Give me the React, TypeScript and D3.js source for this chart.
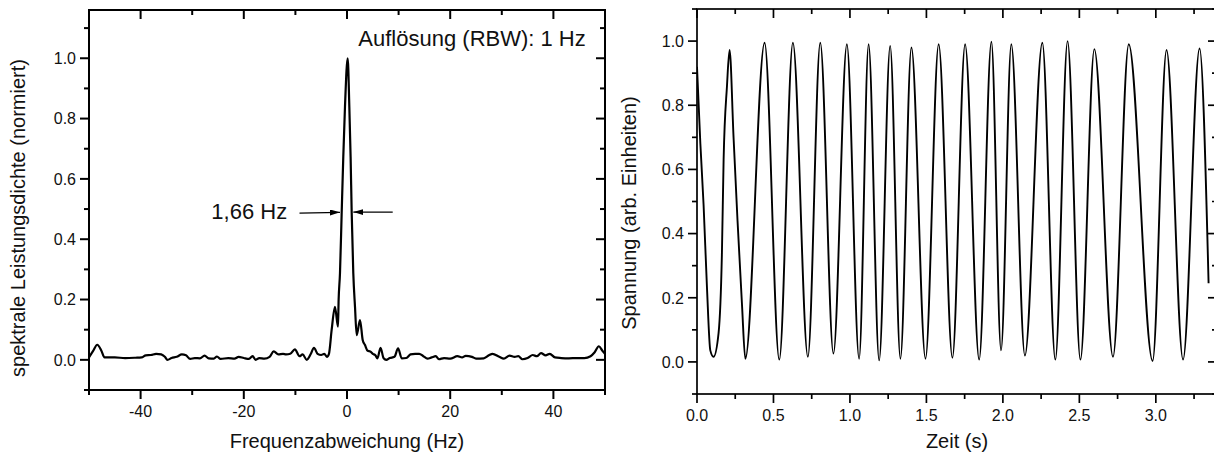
import React from 'react';
import * as d3 from 'd3';

// ---------- Data: left panel (power spectrum) ----------
const specFreq = [
  -50, -49.2, -48.4, -47.6, -47.0, -45, -43, -41, -39.8, -39, -38, -37, -36, -35.3, -34.8, -34, -33, -32, -31.2,
  -30.4, -29.5, -28.5, -27.6, -26.8, -25.8, -25.2, -24.5, -23, -21.8, -21, -20, -19, -18.3, -17.7, -17, -16, -15,
  -14.2, -13.3, -12.4, -11.8, -11, -10.1, -9.2, -8.6, -7.8, -7.0, -6.4, -5.7, -5.0, -4.4, -3.9, -3.5, -2.97, -2.33,
  -1.75, -1.62, -1.36, -1.03, -0.72, -0.39, 0.13, 0.45, 0.7, 0.91, 1.22, 1.55, 1.88, 2.52, 3.04, 3.49, 4.0, 4.5,
  5.0, 5.5, 5.9, 6.5, 7.1, 7.6, 8.3, 9.2, 9.9, 10.6, 11.5, 12.3, 13.2, 14, 14.8, 15.6, 16.4, 17.2, 17.8, 18.8, 20,
  21.4, 22.3, 23.0, 24.2, 25, 26.5, 27.5, 28.2, 29.5, 30.4, 31.5, 32.5, 33.2, 34, 35, 36, 36.8, 37.6, 38.5, 39.3,
  40.3, 41.5, 43, 44.5, 46, 47.2, 48, 48.8, 49.5, 50,
];
const specPower = [
  0.008, 0.03, 0.05, 0.03, 0.008, 0.008, 0.006, 0.007, 0.008, 0.015, 0.016, 0.02, 0.018, 0.01, 0.0, 0.006, 0.01, 0.018, 0.015,
  0.003, 0.006, 0.005, 0.014, 0.005, 0.004, 0.011, 0.003, 0.006, 0.004, 0.01, 0.006, 0.003, 0.012, 0.0, 0.006, 0.004, 0.01,
  0.028, 0.018, 0.02, 0.018, 0.02, 0.035, 0.012, 0.018, 0.0, 0.02, 0.04, 0.02, 0.016, 0.02, 0.01, 0.02, 0.1, 0.176,
  0.11, 0.2, 0.287, 0.488, 0.673, 0.84, 1.0, 0.84, 0.673, 0.488, 0.287, 0.176, 0.082, 0.132, 0.066, 0.049, 0.03, 0.028,
  0.02, 0.015, 0.005, 0.04, 0.005, 0.0, 0.006, 0.01, 0.038, 0.005, 0.006, 0.018, 0.02, 0.02, 0.012, 0.004, 0.008, 0.012, 0.002, 0.006, 0.004,
  0.012, 0.008, 0.013, 0.01, 0.004, 0.005, 0.015, 0.02, 0.01, 0.004, 0.014, 0.01, 0.012, 0.002, 0.006, 0.016, 0.012, 0.022, 0.015, 0.02,
  0.008, 0.006, 0.005, 0.006, 0.006, 0.012, 0.025, 0.045, 0.03, 0.02,
];

// ---------- Data: right panel (time trace) ----------
const waveTime = [
  0, 0.022, 0.043, 0.065, 0.087, 0.108, 0.141, 0.163, 0.174, 0.196, 0.213, 0.239, 0.265, 0.294, 0.316, 0.442, 0.538,
  0.627, 0.725, 0.806, 0.892, 0.98, 1.06, 1.122, 1.191, 1.263, 1.33, 1.402, 1.494, 1.58, 1.67, 1.753, 1.845, 1.925,
  1.988, 2.055, 2.144, 2.258, 2.343, 2.423, 2.507, 2.598, 2.72, 2.823, 2.979, 3.07, 3.178, 3.286, 3.345,
];
const waveVolt = [
  0.92, 0.68, 0.49, 0.234, 0.036, 0.016, 0.09, 0.34, 0.63, 0.86, 0.972, 0.7, 0.44, 0.18, 0.01, 0.995, 0.007,
  0.995, 0.016, 0.995, 0.026, 0.99, 0.01, 0.99, 0.005, 0.985, 0.01, 0.98, 0.01, 0.99, 0.013, 0.99, 0.007, 0.998,
  0.036, 0.99, 0.02, 0.995, 0.007, 1.0, 0.007, 0.975, 0.016, 0.99, 0.003, 0.972, 0.007, 0.977, 0.245,
];

// ---------- Ticks & labels ----------
const leftXMajor = [-40, -20, 0, 20, 40];
const leftXMinor = [-50, -30, -10, 10, 30, 50];
const yMajor = [0, 0.2, 0.4, 0.6, 0.8, 1.0];
const leftYMinor = [-0.1, 0.1, 0.3, 0.5, 0.7, 0.9, 1.1];
const rightXMajor = [0, 0.5, 1.0, 1.5, 2.0, 2.5, 3.0];
const rightXMinor = [0.25, 0.75, 1.25, 1.75, 2.25, 2.75, 3.25];
const rightYMinor = [-0.1, 0.1, 0.3, 0.5, 0.7, 0.9, 1.1];

const leftXTitle = 'Frequenzabweichung (Hz)';
const leftYTitle = 'spektrale Leistungsdichte (normiert)';
const rightXTitle = 'Zeit (s)';
const rightYTitle = 'Spannung (arb. Einheiten)';
const rbwLabel = 'Auflösung (RBW): 1 Hz';
const fwhmLabel = '1,66 Hz';
// annotation anchors in data units (Hz, normalized PSD)
const rbwAt = [2.2, 1.04];
const fwhmLabelAt = [-11.6, 0.468];
const arrowLeft = [-9.2, -1.36, 0.489];
const arrowRight = [8.86, 1.22, 0.49];

const FONT = '"Liberation Sans", Arial, Helvetica, sans-serif';

type PanelProps = {
  x: d3.ScaleLinear<number, number>;
  y: d3.ScaleLinear<number, number>;
  xMajor: number[];
  xMinor: number[];
  yMajor: number[];
  yMinor: number[];
  xFmt: (v: number) => string;
  yFmt: (v: number) => string;
  xTitle: string;
  yTitle: string;
  yTitleX: number;
  yTitleY: number;
  frameW: number;
  children?: React.ReactNode;
  id: string;
};

function Panel(p: PanelProps) {
  const [x0, x1] = p.x.range();
  const [y0, y1] = p.y.range(); // y0 bottom, y1 top
  const MAJ = 9;
  const MIN = 5;
  const sw = p.frameW;
  return (
    <g>
      <defs>
        <clipPath id={p.id}>
          <rect x={x0} y={y1} width={x1 - x0} height={y0 - y1} />
        </clipPath>
      </defs>
      <g clipPath={`url(#${p.id})`}>{p.children}</g>
      <rect x={x0} y={y1} width={x1 - x0} height={y0 - y1} fill="none" stroke="#000" strokeWidth={sw} />
      {p.xMajor.map((v) => (
        <g key={'xM' + v}>
          <line x1={p.x(v)} x2={p.x(v)} y1={y0} y2={y0 + MAJ} stroke="#000" strokeWidth={sw} />
          <line x1={p.x(v)} x2={p.x(v)} y1={y1} y2={y1 + MAJ} stroke="#000" strokeWidth={sw} />
          <text x={p.x(v)} y={y0 + 27} textAnchor="middle" fontSize={16} fontFamily={FONT} fill="#111">
            {p.xFmt(v)}
          </text>
        </g>
      ))}
      {p.xMinor.map((v) => (
        <g key={'xm' + v}>
          <line x1={p.x(v)} x2={p.x(v)} y1={y0} y2={y0 + MIN} stroke="#000" strokeWidth={sw} />
          <line x1={p.x(v)} x2={p.x(v)} y1={y1} y2={y1 + MIN} stroke="#000" strokeWidth={sw} />
        </g>
      ))}
      {p.yMajor.map((v) => (
        <g key={'yM' + v}>
          <line x1={x0 - MAJ} x2={x0} y1={p.y(v)} y2={p.y(v)} stroke="#000" strokeWidth={sw} />
          <line x1={x1 - MAJ} x2={x1} y1={p.y(v)} y2={p.y(v)} stroke="#000" strokeWidth={sw} />
          <text x={x0 - 13} y={p.y(v)} dy="0.36em" textAnchor="end" fontSize={16} fontFamily={FONT} fill="#111">
            {p.yFmt(v)}
          </text>
        </g>
      ))}
      {p.yMinor.map((v) => (
        <g key={'ym' + v}>
          <line x1={x0 - MIN} x2={x0} y1={p.y(v)} y2={p.y(v)} stroke="#000" strokeWidth={sw} />
          <line x1={x1 - MIN} x2={x1} y1={p.y(v)} y2={p.y(v)} stroke="#000" strokeWidth={sw} />
        </g>
      ))}
      <text x={(x0 + x1) / 2} y={448} textAnchor="middle" fontSize={20} fontFamily={FONT} fill="#111">
        {p.xTitle}
      </text>
      <text
        transform={`translate(${p.yTitleX},${p.yTitleY}) rotate(-90)`}
        textAnchor="middle"
        fontSize={20}
        fontFamily={FONT}
        fill="#111"
      >
        {p.yTitle}
      </text>
    </g>
  );
}

export default function App() {
  const xL = d3.scaleLinear().domain([-50, 50]).range([89, 605]);
  const yL = d3.scaleLinear().domain([-0.1, 1.16]).range([390, 10]);
  const xR = d3.scaleLinear().domain([0, 3.4]).range([697, 1217]);
  const yR = d3.scaleLinear().domain([-0.1, 1.1]).range([394, 9]);

  const specLine = d3
    .line<number>()
    .x((_, i) => xL(specFreq[i]))
    .y((d) => yL(d))
    .curve(d3.curveMonotoneX);
  const waveLine = d3
    .line<number>()
    .x((_, i) => xR(waveTime[i]))
    .y((d) => yR(d))
    .curve(d3.curveMonotoneX);

  const fmt1 = d3.format('.1f');
  const fmt0 = (v: number) => String(v);

  return (
    <svg
      width={1214}
      height={455}
      style={{ position: 'absolute', left: 0, top: 0, background: '#fff' }}
      xmlns="http://www.w3.org/2000/svg"
    >
      <defs>
        <marker id="ah" viewBox="0 0 10 6" refX="10" refY="3" markerWidth="10" markerHeight="6" markerUnits="userSpaceOnUse" orient="auto">
          <path d="M0,0 L10,3 L0,6 Z" fill="#000" />
        </marker>
      </defs>
      <rect x={0} y={0} width={1214} height={455} fill="#fff" />
      <Panel
        id="clipL"
        x={xL}
        y={yL}
        xMajor={leftXMajor}
        xMinor={leftXMinor}
        yMajor={yMajor}
        yMinor={leftYMinor}
        xFmt={fmt0}
        yFmt={fmt1}
        xTitle={leftXTitle}
        yTitle={leftYTitle}
        yTitleX={25}
        yTitleY={218}
        frameW={2}
      >
        <path d={specLine(specPower) || ''} fill="none" stroke="#000" strokeWidth={2.2} strokeLinejoin="round" />
      </Panel>
      <text x={xL(rbwAt[0])} y={yL(rbwAt[1])} fontSize={22} fontFamily={FONT} fill="#111">
        {rbwLabel}
      </text>
      <text x={xL(fwhmLabelAt[0])} y={yL(fwhmLabelAt[1])} textAnchor="end" fontSize={22} fontFamily={FONT} fill="#111">
        {fwhmLabel}
      </text>
      <line
        x1={xL(arrowLeft[0])}
        x2={xL(arrowLeft[1])}
        y1={yL(arrowLeft[2]) + 0.8}
        y2={yL(arrowLeft[2])}
        stroke="#000"
        strokeWidth={1.3}
        markerEnd="url(#ah)"
      />
      <line
        x1={xL(arrowRight[0])}
        x2={xL(arrowRight[1])}
        y1={yL(arrowRight[2])}
        y2={yL(arrowRight[2])}
        stroke="#000"
        strokeWidth={1.3}
        markerEnd="url(#ah)"
      />
      <Panel
        id="clipR"
        x={xR}
        y={yR}
        xMajor={rightXMajor}
        xMinor={rightXMinor}
        yMajor={yMajor}
        yMinor={rightYMinor}
        xFmt={fmt1}
        yFmt={fmt1}
        xTitle={rightXTitle}
        yTitle={rightYTitle}
        yTitleX={636}
        yTitleY={213}
        frameW={1.7}
      >
        <path d={waveLine(waveVolt) || ''} fill="none" stroke="#000" strokeWidth={1.9} strokeLinejoin="round" />
      </Panel>
    </svg>
  );
}
